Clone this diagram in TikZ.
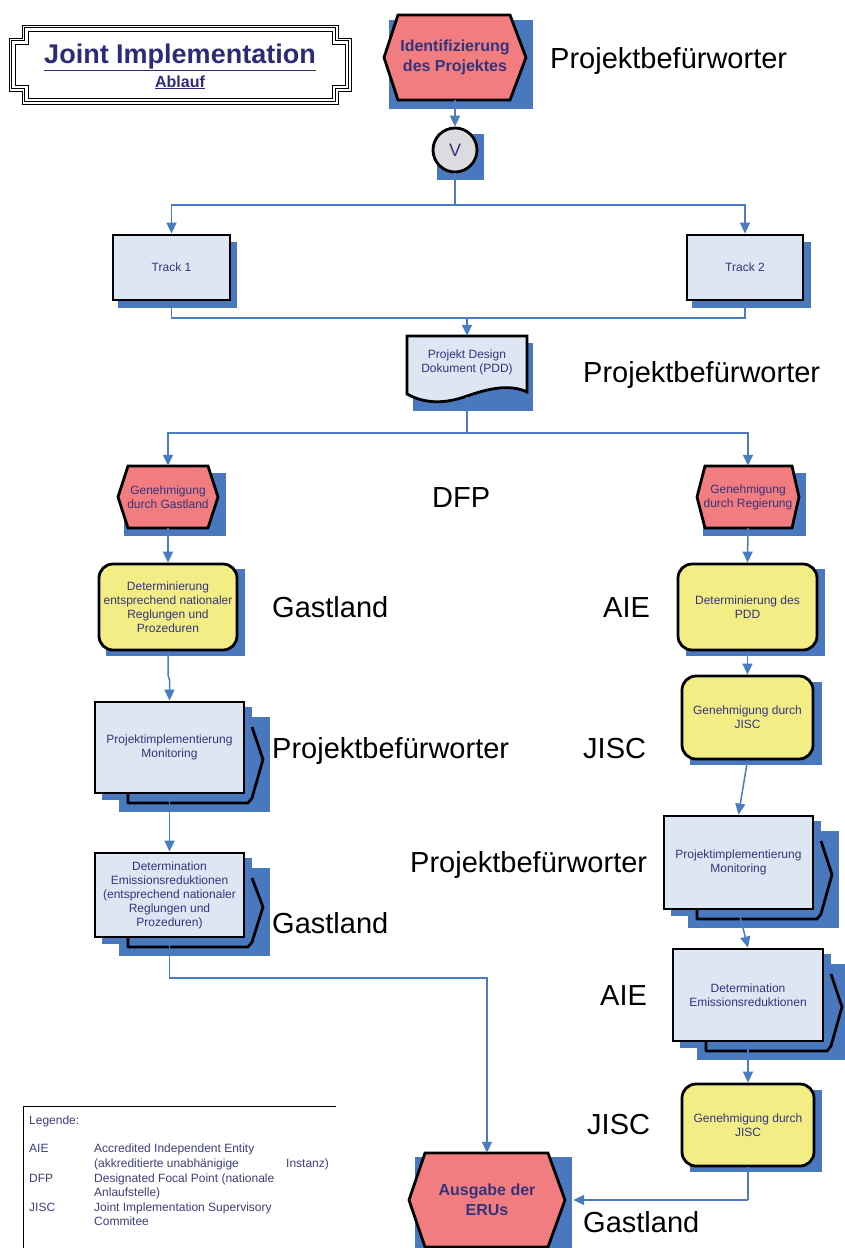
\documentclass[tikz,border=0pt]{standalone}
\usepackage{fontspec}
\setmainfont{Liberation Sans}
\usetikzlibrary{arrows.meta,calc}
\definecolor{shadowblue}{HTML}{4A78BE}
\definecolor{lineblue}{HTML}{4A7CC4}
\definecolor{hexred}{HTML}{F27D80}
\definecolor{boxyellow}{HTML}{F3ED86}
\definecolor{boxblue}{HTML}{DEE6F4}
\definecolor{txtblue}{HTML}{34347A}
\definecolor{titleblue}{HTML}{2E2A78}
\definecolor{legtxt}{HTML}{3D3D7D}
\definecolor{circgray}{HTML}{DCDCE0}
\newcommand\fs[2]{\fontsize{#1}{#2}\selectfont}
% notched rectangle: L T R B c
\newcommand\notchrect[5]{%
  \draw[frame] (#1,#2+#5) -- (#1+#5,#2+#5) -- (#1+#5,#2) -- (#3-#5,#2) -- (#3-#5,#2+#5) -- (#3,#2+#5) -- (#3,#4-#5) -- (#3-#5,#4-#5) -- (#3-#5,#4) -- (#1+#5,#4) -- (#1+#5,#4-#5) -- (#1,#4-#5) -- cycle;}
% hexagon: leftpoint x, inner left x, inner right x, right point x, top y, bottom y
\newcommand\hexa[6]{%
  \draw[blk,fill=hexred,line join=miter] (#1,{(#5+#6)/2}) -- (#2,#5) -- (#3,#5) -- (#4,{(#5+#6)/2}) -- (#3,#6) -- (#2,#6) -- cycle;}
% stacked process decoration: x1 y1 x2 y2 of the front box
\newcommand\stackdeco[4]{%
  \fill[shd] (#1+24,#2+15) rectangle (#3+26,#4+19);
  \fill[shd] (#1+7,#2+5) rectangle (#3+8,#4+7);
  \draw[blk,line join=round] (#3+8,#2+25) -- (#3+19,{(#2+#4)/2+12}) -- (#3+8,#4+5) -- (#3+4,#4+10) -- (#1+33,#4+10) -- (#1+33,#4);}
\begin{document}
\begin{tikzpicture}[x=1pt,y=-1pt,
  blk/.style={draw=black,line width=2.8pt},
  shd/.style={fill=shadowblue,draw=none},
  conn/.style={draw=lineblue,line width=1.5pt,-{Triangle[width=10pt,length=11pt]}},
  plain/.style={draw=lineblue,line width=1.5pt},
  txt/.style={text=txtblue,font=\fs{12}{14},align=center,inner sep=0pt},
  btxt/.style={text=txtblue,font=\fs{16}{19.5}\bfseries,align=center,inner sep=0pt},
  rbox/.style={txt,blk,fill=boxblue},
  ybox/.style={txt,blk,fill=boxyellow,rounded corners=14pt},
  lbl/.style={font=\fs{29}{30},text=black,inner sep=0pt,anchor=base west},
  leg/.style={font=\fs{12}{14.6},text=legtxt,inner sep=0pt,anchor=base west},
  frame/.style={draw=black,line width=0.7pt}]
\useasboundingbox (0,0) rectangle (845,1248);

% ---------- title ----------
\notchrect{9}{25}{351}{104}{13}
\notchrect{11.5}{27.5}{348.5}{101.5}{13}
\notchrect{15}{31}{345}{98}{13}
\node[inner sep=0pt,anchor=base,text=titleblue,font=\fs{27}{30}\bfseries] (title) at (180,63) {\underline{Joint Implementation}};
\node[inner sep=0pt,anchor=base,text=titleblue,font=\fs{16}{18}\bfseries] (sub) at (180,87) {\underline{Ablauf}};

% ---------- shadows ----------
\fill[shd] (389,20) rectangle (533,109);
\fill[shd] (437,134) rectangle (484,180);
\fill[shd] (118,242) rectangle (237,308);
\fill[shd] (692,242) rectangle (811,308);
\fill[shd] (413,343) rectangle (533,411);
\fill[shd] (124,473) rectangle (226,536);
\fill[shd] (703,473) rectangle (806,536);
\fill[shd] (106,569) rectangle (245,656);
\fill[shd] (686,569) rectangle (825,656);
\fill[shd] (690,682) rectangle (822,765);
\fill[shd] (690,1090) rectangle (822,1172);
\fill[shd] (415,1157) rectangle (572,1248);
\stackdeco{95}{702}{244}{793}
\stackdeco{95}{853}{244}{937}
\stackdeco{664}{816}{813}{909}
\stackdeco{673}{949}{823}{1041}

% ---------- hexagons ----------
\hexa{384}{398}{510}{526}{15}{100}
\node[btxt,minimum width=142pt,minimum height=85pt] (h1) at (455,57.5) {Identifizierung\\des Projektes};
\hexa{118}{128}{208}{218}{466}{528}
\node[txt,minimum width=100pt,minimum height=62pt] (h2) at (168,497) {Genehmigung\\durch Gastland};
\hexa{697}{705}{792}{799}{466}{528}
\node[txt,minimum width=102pt,minimum height=62pt] (h3) at (748,497) {Genehmigung\\durch Regierung};
\hexa{409}{425}{548}{565}{1153}{1247}
\node[btxt,minimum width=156pt,minimum height=94pt] (eru) at (487,1200) {Ausgabe der\\ERUs};

% ---------- circle ----------
\node[circle,blk,fill=circgray,minimum size=44pt,inner sep=0pt,text=txtblue,font=\fs{18}{20}] (vc) at (455,150) {V};

% ---------- track boxes ----------
\node[rbox,minimum width=117pt,minimum height=65pt] (t1) at (171.5,267.5) {Track 1};
\node[rbox,minimum width=116pt,minimum height=65pt] (t2) at (745,267.5) {Track 2};

% ---------- PDD document ----------
\draw[blk,fill=boxblue,line join=miter] (407,336) -- (527,336) -- (527,392)
  .. controls (510,384) and (490,388) .. (467,396)
  .. controls (445,404) and (425,404) .. (407,394) -- cycle;
\node[txt,minimum width=120pt,minimum height=61pt] (pdd) at (467,366.5) {};
\node[txt] (pddtxt) at (467,362) {Projekt Design\\Dokument (PDD)};

% ---------- yellow boxes ----------
\node[ybox,minimum width=138pt,minimum height=86pt] (y1) at (168,607) {Determinierung\\entsprechend nationaler\\Reglungen und\\Prozeduren};
\node[ybox,minimum width=139pt,minimum height=86pt] (y2) at (747.5,607) {Determinierung des\\PDD};
\node[ybox,minimum width=131pt,minimum height=83pt] (j1) at (747.5,717.5) {Genehmigung durch\\JISC};
\node[ybox,minimum width=132pt,minimum height=82pt] (j2) at (748,1125) {Genehmigung durch\\JISC};

% ---------- stacked process boxes ----------
\node[rbox,minimum width=149pt,minimum height=91pt] (m1) at (169.5,747.5) {Projektimplementierung\\Monitoring};
\node[rbox,minimum width=149pt,minimum height=84pt] (d1) at (169.5,895) {Determination\\Emissionsreduktionen\\(entsprechend nationaler\\Reglungen und\\Prozeduren)};
\node[rbox,minimum width=149pt,minimum height=93pt] (m2) at (738.5,862.5) {Projektimplementierung\\Monitoring};
\node[rbox,minimum width=150pt,minimum height=92pt] (d2) at (748,995) {Determination\\Emissionsreduktionen};

% ---------- connectors ----------
\coordinate (s1) at (455,205);
\coordinate (s2) at (467,433);
\coordinate (s3) at (487,978);
\coordinate (s4) at (748,1200);
\coordinate (jn) at (467,318);
\coordinate (kink) at (168,675);
\coordinate (erutip) at ($(eru.east)+(8,0)$);
\draw[conn] (h1.south) -- (vc.north);
\draw[plain] (vc.south) -- (s1);
\draw[conn] (s1) -| (t1.north);
\draw[conn] (s1) -| (t2.north);
\draw[plain] (t1.south) |- (jn) -| (t2.south);
\draw[conn] (jn) -- (pdd.north);
\draw[plain] (pdd.south) -- (s2);
\draw[conn] (s2) -| (h2.north);
\draw[conn] (s2) -| (h3.north);
\draw[conn] (h2.south) -- (y1.north);
\draw[conn] (h3.south) -- (y2.north);
\draw[conn] (y1.south) -- (kink) -- ++(1.5,5) -- (m1.north);
\draw[conn] (m1.south) -- (d1.north);
\draw[conn] (d1.south) |- (s3) -- (eru.north);
\draw[conn] (y2.south) -- (j1.north);
\draw[conn] (j1.south) -- (m2.north);
\draw[conn] (m2.south) -- (d2.north);
\draw[conn] (d2.south) -- (j2.north);
\draw[plain] (j2.south) -- (s4);
\draw[conn] (s4) -- (erutip);

% ---------- role labels ----------
\node[lbl] (l1) at (550,68) {Projektbefürworter};
\node[lbl] (l2) at (583,382) {Projektbefürworter};
\node[lbl] (l3) at (432,507) {DFP};
\node[lbl] (l4) at (272,617) {Gastland};
\node[lbl] (l5) at (603,617) {AIE};
\node[lbl] (l6) at (272,758) {Projektbefürworter};
\node[lbl] (l7) at (583,758) {JISC};
\node[lbl] (l8) at (410,872) {Projektbefürworter};
\node[lbl] (l9) at (272,933) {Gastland};
\node[lbl] (l10) at (600,1005) {AIE};
\node[lbl] (l11) at (587,1134) {JISC};
\node[lbl] (l12) at (583,1232) {Gastland};

% ---------- legend ----------
\draw[line width=1pt] (23,1248) -- (23,1106) -- (336,1106);
\node[leg] (lg) at (29,1124) {Legende:};
\node[leg] (a1) at (29,1152) {AIE};
\node[leg] (a2) at (94,1152) {Accredited Independent Entity};
\node[leg] (a3) at (94,1167) {(akkreditierte unabhänigige};
\node[leg] (a4) at (286,1167) {Instanz)};
\node[leg] (b1) at (29,1182) {DFP};
\node[leg] (b2) at (94,1182) {Designated Focal Point (nationale};
\node[leg] (b3) at (94,1196) {Anlaufstelle)};
\node[leg] (c1) at (29,1211) {JISC};
\node[leg] (c2) at (94,1211) {Joint Implementation Supervisory};
\node[leg] (c3) at (94,1225) {Commitee};
\end{tikzpicture}
\end{document}
